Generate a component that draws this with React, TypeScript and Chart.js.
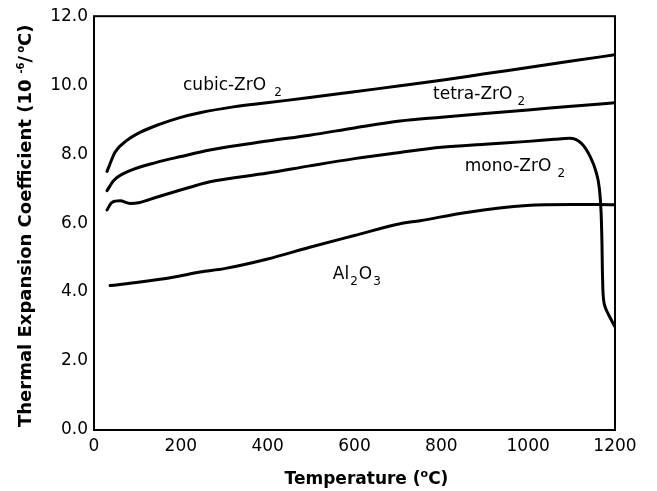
import { useEffect, useRef } from "react";
import { Chart, registerables } from "chart.js";

Chart.register(...registerables);

// ---- data ----
const xTickValues = [0, 200, 400, 600, 800, 1000, 1200];
const yTickValues = [0, 2, 4, 6, 8, 10, 12];

const cubicTemp = [30, 37, 48, 75, 106, 152, 198, 244, 321, 398, 497, 600, 705, 800, 900, 1000, 1100, 1200];
const cubicCTE = [7.5, 7.72, 8.05, 8.39, 8.63, 8.87, 9.06, 9.2, 9.37, 9.49, 9.64, 9.81, 9.98, 10.14, 10.33, 10.51, 10.7, 10.88];

const tetraTemp = [30, 45, 83, 144, 200, 267, 400, 497, 600, 705, 800, 900, 1000, 1100, 1200];
const tetraCTE = [6.94, 7.23, 7.52, 7.76, 7.93, 8.12, 8.38, 8.55, 8.76, 8.96, 9.07, 9.18, 9.28, 9.39, 9.49];

const monoTemp = [30, 41, 60, 83, 106, 144, 221, 267, 400, 497, 600, 705, 800, 900, 1000, 1060, 1095, 1122, 1142, 1156, 1164, 1168, 1170, 1171, 1172, 1173.5, 1176, 1180, 1185, 1192, 1200];
const monoCTE = [6.38, 6.6, 6.65, 6.57, 6.6, 6.75, 7.04, 7.2, 7.45, 7.66, 7.87, 8.05, 8.2, 8.29, 8.37, 8.43, 8.46, 8.32, 7.95, 7.5, 7.0, 6.3, 5.4, 4.6, 4.1, 3.8, 3.62, 3.48, 3.35, 3.18, 2.99];

const aluminaTemp = [37, 106, 182, 244, 300, 400, 497, 600, 705, 751, 858, 997, 1100, 1165, 1200];
const aluminaCTE = [4.19, 4.29, 4.43, 4.58, 4.68, 4.96, 5.3, 5.64, 5.98, 6.07, 6.31, 6.51, 6.54, 6.54, 6.53];

const seriesNames = ["cubic-ZrO2", "tetra-ZrO2", "mono-ZrO2", "Al2O3"];

// ---- label anchors (data units) and rich-text parts ----
type Part = { t?: string; sub?: boolean; sup?: boolean; gap?: number };
const curveLabels: { x: number; y: number; parts: Part[] }[] = [
  { x: 205, y: 9.86, parts: [{ t: "cubic-ZrO" }, { gap: 8 }, { t: "2", sub: true }] },
  { x: 781, y: 9.6, parts: [{ t: "tetra-ZrO" }, { gap: 5 }, { t: "2", sub: true }] },
  { x: 854, y: 7.52, parts: [{ t: "mono-ZrO" }, { gap: 6 }, { t: "2", sub: true }] },
  { x: 550, y: 4.39, parts: [{ t: "Al" }, { gap: 1 }, { t: "2", sub: true }, { gap: 1 }, { t: "O" }, { gap: 1 }, { t: "3", sub: true }] },
];

const xTitleParts: Part[] = [{ t: "Temperature (" }, { t: "o", sup: true }, { t: "C)" }];
const yTitleParts: Part[] = [
  { t: "Thermal Expansion Coefficient (10" },
  { gap: 6 },
  { t: "-6", sup: true },
  { t: "/" },
  { gap: 3 },
  { t: "o", sup: true },
  { t: "C)" },
];

const FONT = "'DejaVu Sans', 'Liberation Sans', Arial, sans-serif";

function partsWidth(ctx: CanvasRenderingContext2D, parts: Part[], size: number, small: number, weight: string) {
  let w = 0;
  for (const p of parts) {
    if (p.gap) { w += p.gap; continue; }
    ctx.font = `${weight} ${p.sub || p.sup ? small : size}px ${FONT}`;
    w += ctx.measureText(p.t || "").width;
  }
  return w;
}

function drawParts(ctx: CanvasRenderingContext2D, parts: Part[], x: number, y: number, size: number, small: number, weight: string) {
  let cx = x;
  ctx.textBaseline = "alphabetic";
  ctx.textAlign = "left";
  for (const p of parts) {
    if (p.gap) { cx += p.gap; continue; }
    const isSmall = p.sub || p.sup;
    ctx.font = `${weight} ${isSmall ? small : size}px ${FONT}`;
    const dy = p.sub ? 6 : p.sup ? -7 : 0;
    ctx.fillText(p.t || "", cx, y + dy);
    cx += ctx.measureText(p.t || "").width;
  }
}

const decorPlugin = {
  id: "decor",
  afterDraw(chart: any) {
    const { ctx, chartArea, scales } = chart;
    const xs = scales.x;
    const ys = scales.y;
    ctx.save();
    // frame
    ctx.strokeStyle = "#000";
    ctx.lineWidth = 2;
    ctx.strokeRect(chartArea.left, chartArea.top, chartArea.right - chartArea.left, chartArea.bottom - chartArea.top);
    ctx.fillStyle = "#000";
    // curve labels
    for (const lab of curveLabels) {
      drawParts(ctx, lab.parts, xs.getPixelForValue(lab.x), ys.getPixelForValue(lab.y), 17, 12, "normal");
    }
    // x title
    const xw = partsWidth(ctx, xTitleParts, 17, 11, "bold");
    const xc = (chartArea.left + chartArea.right) / 2 + 12;
    drawParts(ctx, xTitleParts, xc - xw / 2, chartArea.bottom + 54, 17, 11, "bold");
    // y title (rotated)
    ctx.translate(chartArea.left - 63, chartArea.bottom - 3);
    ctx.rotate(-Math.PI / 2);
    drawParts(ctx, yTitleParts, 0, 0, 18, 10, "bold");
    ctx.restore();
  },
};

function toPoints(xs: number[], ys: number[]) {
  return xs.map((x, i) => ({ x, y: ys[i] }));
}

export default function App() {
  const ref = useRef<HTMLCanvasElement | null>(null);

  useEffect(() => {
    if (!ref.current) return;
    const series = [
      toPoints(cubicTemp, cubicCTE),
      toPoints(tetraTemp, tetraCTE),
      toPoints(monoTemp, monoCTE),
      toPoints(aluminaTemp, aluminaCTE),
    ];
    const tickFont = { family: FONT, size: 17 };
    const chart = new Chart(ref.current, {
      type: "line",
      data: {
        datasets: series.map((d, i) => ({
          label: seriesNames[i],
          data: d,
          borderColor: "#000",
          backgroundColor: "#000",
          borderWidth: 3,
          pointRadius: 0,
          fill: false,
          borderCapStyle: "round" as const,
          borderJoinStyle: "round" as const,
          cubicInterpolationMode: "monotone" as const,
        })),
      },
      options: {
        responsive: false,
        animation: false,
        devicePixelRatio: 1,
        layout: { padding: { left: 0, top: 15, right: 42, bottom: 0 } },
        plugins: { legend: { display: false }, tooltip: { enabled: false }, title: { display: false } },
        scales: {
          x: {
            type: "linear",
            min: 0,
            max: 1200,
            afterBuildTicks: (s: any) => { s.ticks = xTickValues.map((v) => ({ value: v })); },
            afterFit: (s: any) => { s.height = 61; },
            ticks: { font: tickFont, color: "#000", padding: 6, maxRotation: 0, autoSkip: false, callback: (v: any) => String(v) },
            grid: { display: false, drawTicks: false },
            border: { display: false },
          },
          y: {
            type: "linear",
            min: 0,
            max: 12,
            afterBuildTicks: (s: any) => { s.ticks = yTickValues.map((v) => ({ value: v })); },
            afterFit: (s: any) => { s.width = 94; },
            ticks: { font: tickFont, color: "#000", padding: 6, autoSkip: false, callback: (v: any) => Number(v).toFixed(1) },
            grid: { display: false, drawTicks: false },
            border: { display: false },
          },
        },
      },
      plugins: [decorPlugin],
    });
    return () => chart.destroy();
  }, []);

  return (
    <div style={{ position: "absolute", left: 0, top: 0, width: 657, height: 491, background: "#fff" }}>
      <canvas ref={ref} width={657} height={491} style={{ display: "block", width: 657, height: 491 }} />
    </div>
  );
}
